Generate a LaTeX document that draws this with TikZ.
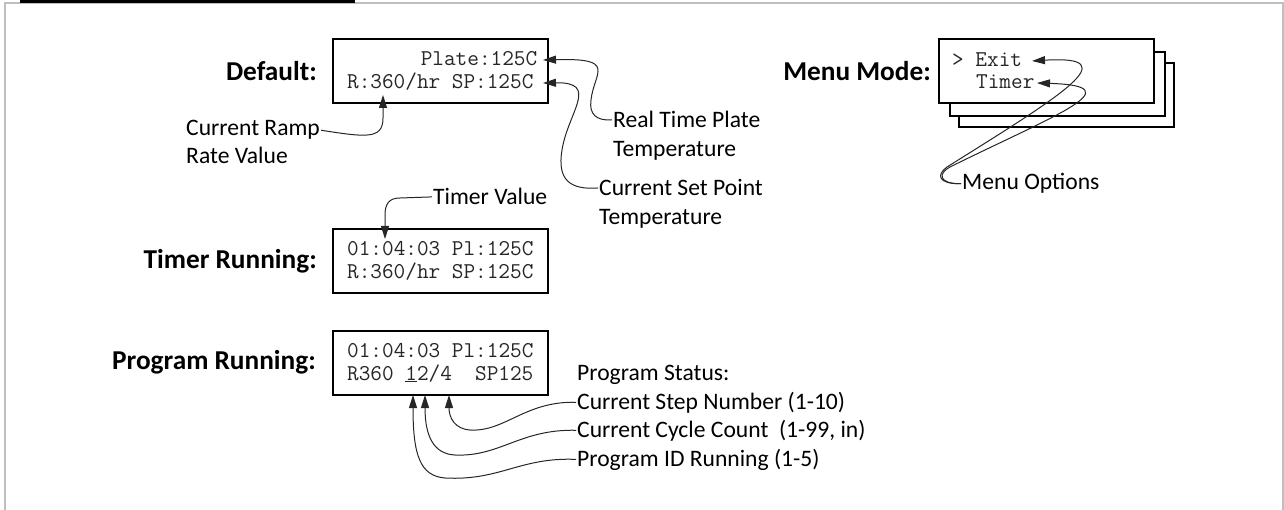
\documentclass[tikz,border=0pt]{standalone}
\usepackage{fontspec}
\setsansfont{Carlito}
\usetikzlibrary{positioning}
\usetikzlibrary{arrows.meta}

\begin{document}
\begin{tikzpicture}[
            x = 1pt, y = -1pt, % pixel grid, y runs downwards
            > = {Triangle[length=13pt, width=8pt]},
            lcd/.style = {draw, line width=2pt, fill=white,
                minimum width=215pt, minimum height=64pt, inner sep=0pt},
            lcdline/.style = {font=\ttfamily\fontsize{22.6}{27}\selectfont,
                text=black!85, inner sep=0pt, anchor=base west},
            modelabel/.style = {font=\sffamily\bfseries\fontsize{27.3}{32}\selectfont,
                inner sep=0pt},
            callout/.style = {font=\sffamily\fontsize{23.6}{28}\selectfont,
                inner sep=1pt, anchor=base west},
            pointer/.style = {->, draw=black!85, line width=1pt}
            ]

        \useasboundingbox (0,0) rectangle (1284,510);

        % page frame
        \draw[line width=2pt, black!25] (5,510) -- (5,3.3) -- (1282.5,3.3) -- (1282.5,510);
        \fill (20,0) rectangle (355,2.6);

        % displays
        \node[lcd] (def) at (440.5,71) {};
        \node[lcd] (tim) at (440.5,261.5) {};
        \node[lcd] (prog) at (440.5,362.5) {};

        \node[lcd] (menuC) at (1066.5,95) {};
        \node[lcd] (menuB) at (1057.5,84) {};
        \node[lcd] (menuA) at (1046.5,71) {};

        % mode names
        \node[modelabel] (defMode) [left = 15pt of def] {Default:};
        \node[modelabel] (timMode) [left = 15pt of tim] {Timer Running:};
        \node[modelabel] (progMode) [left = 16pt of prog] {Program Running:};
        \node[modelabel] (menuMode) [left = 7pt of menuA] {Menu Mode:};

        % display text
        \node[lcdline, anchor=base east] (defA) at (537.4,66) {Plate:125C};
        \node[lcdline] (defB) at (347,89) {R:360/hr SP:125C};

        \node[lcdline] (timA) at (347,256) {01:04:03 Pl:125C};
        \node[lcdline] (timB) at (347,279) {R:360/hr SP:125C};

        \node[lcdline] (progA) at (347,357) {01:04:03 Pl:125C};
        \node[lcdline] (progB) at (347,380) {R360 \underline{1}2/4\ \ SP125};

        \node[lcdline] (menuExit) at (952,67) {> Exit};
        \node[lcdline] (menuTimer) at (976,89) {Timer};

        % arrow tips
        \coordinate (rampTip) at (383,95);
        \coordinate (plateTip) at (543,60);
        \coordinate (spTip) at (543,83);
        \coordinate (timerTip) at (385,239);
        \coordinate (exitTip) at (1032,61);
        \coordinate (optTip) at (1037,83);
        \coordinate (idTip) at (413,395);
        \coordinate (cycleTip) at (425,395);
        \coordinate (stepTip) at (449,395);

        % callouts
        \node[callout] (ramp1) at (185,136) {Current Ramp};
        \node[callout] (ramp2) at (185,164) {Rate Value};
        \node[callout] (plate1) at (612,128) {Real Time Plate};
        \node[callout] (plate2) at (612,157) {Temperature};
        \node[callout] (sp1) at (598,196) {Current Set Point};
        \node[callout] (sp2) at (598,225) {Temperature};
        \node[callout] (timerLbl) at (432,205) {Timer Value};
        \node[callout] (menuLbl) at (961,190) {Menu Options};
        \node[callout] (status0) at (576,380) {Program Status:};
        \node[callout] (status1) at (576,409) {Current Step Number (1-10)};
        \node[callout] (status2) at (576,437) {Current Cycle Count \ (1-99, in)};
        \node[callout] (status3) at (576,466) {Program ID Running (1-5)};

        % connectors
        \draw[pointer] (ramp1.east) .. controls (365,137) and (383,140) .. (383,118) -- (rampTip);
        \draw[pointer] (plate1.west) .. controls (596,121) and (589,114) .. (591,100)
            .. controls (594,72) and (618,58) .. (plateTip);
        \draw[pointer] (sp1.west) .. controls (570,190) and (557,180) .. (562,150)
            .. controls (568,112) and (600,82) .. (spTip);
        \draw[pointer] (timerLbl.west) -- (400,198) .. controls (389,198) and (385,204) .. (385,215) -- (timerTip);

        \draw[pointer] (menuLbl.west) .. controls (938,184) and (936,175) .. (947,167)
            .. controls (1062,95) and (1128,55) .. (exitTip);
        \draw[pointer] (menuLbl.west) .. controls (938,184) and (938,173) .. (950,167)
            .. controls (1055,115) and (1135,86) .. (optTip);

        \draw[pointer] (status1.west) .. controls (525,401) and (505,432) .. (470,430)
            .. controls (455,429) and (449,418) .. (stepTip);
        \draw[pointer] (status2.west) .. controls (520,429) and (500,457) .. (455,455)
            .. controls (433,454) and (425,435) .. (cycleTip);
        \draw[pointer] (status3.west) .. controls (520,457) and (500,481) .. (445,478)
            .. controls (420,476) and (413,455) .. (idTip);

\end{tikzpicture}
\end{document}
